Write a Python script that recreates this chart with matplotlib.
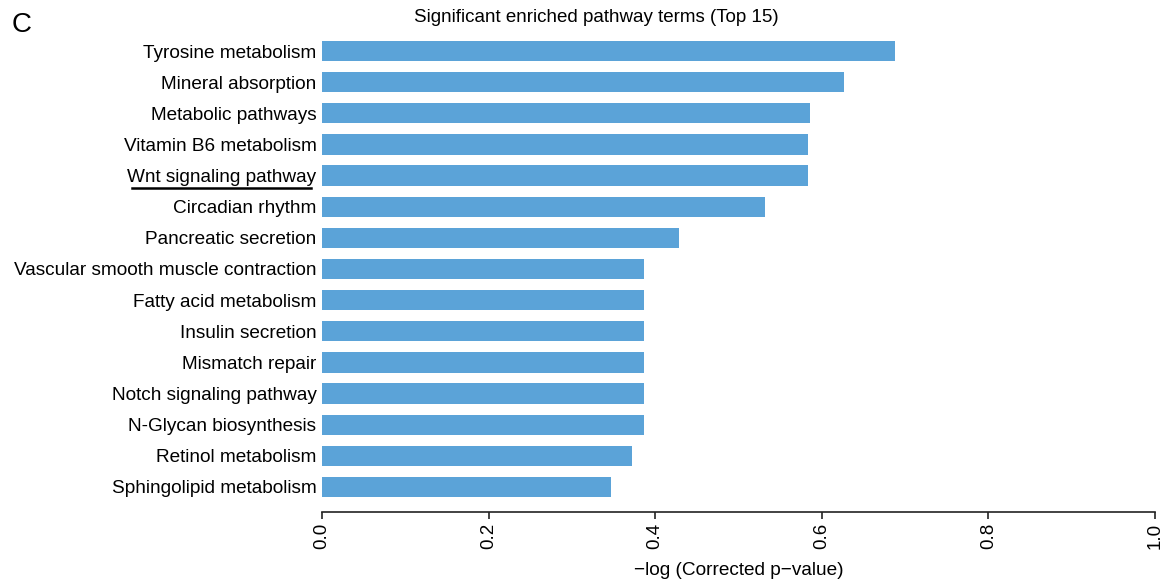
import matplotlib
matplotlib.use("Agg")
import matplotlib.pyplot as plt
from matplotlib.lines import Line2D

plt.rcParams['font.family'] = ['Liberation Sans', 'DejaVu Sans']

# pathway terms, top to bottom
terms = [
    "Tyrosine metabolism",
    "Mineral absorption",
    "Metabolic pathways",
    "Vitamin B6 metabolism",
    "Wnt signaling pathway",
    "Circadian rhythm",
    "Pancreatic secretion",
    "Vascular smooth muscle contraction",
    "Fatty acid metabolism",
    "Insulin secretion",
    "Mismatch repair",
    "Notch signaling pathway",
    "N-Glycan biosynthesis",
    "Retinol metabolism",
    "Sphingolipid metabolism",
]
neg_log_p = [0.688, 0.627, 0.586, 0.583, 0.583, 0.532, 0.429,
             0.387, 0.387, 0.387, 0.387, 0.387, 0.387, 0.372, 0.347]
xticks = [0.0, 0.2, 0.4, 0.6, 0.8, 1.0]
highlight = "Wnt signaling pathway"

W, H = 1168, 582
fig = plt.figure(figsize=(W / 100, H / 100), dpi=100)
ax = fig.add_axes([322 / W, 1 - 505 / H, (1155 - 322) / W, (505 - 35) / H])

# R-style detached x axis (set before ticks: set_position resets them)
for s in ("top", "right", "left"):
    ax.spines[s].set_visible(False)
ax.spines["bottom"].set_position(("outward", 5))
ax.spines["bottom"].set_bounds(0, 1)
ax.spines["bottom"].set_linewidth(1.2)
ax.spines["bottom"].set_color("#222222")

ypos = list(range(len(terms)))
ax.barh(ypos, neg_log_p, height=0.65, color="#5BA3D8", edgecolor="none")

ax.set_xlim(0, 1)
ax.set_ylim(14.58, -0.514)
ax.set_yticks(ypos)
ax.set_yticklabels(terms, fontsize=13.7)
ax.tick_params(axis="y", length=0, pad=4)

ax.set_xticks(xticks)
ax.set_xticklabels([f"{t:.1f}" for t in xticks], fontsize=13.5)
ax.tick_params(axis="x", length=5, width=1.2, pad=3, color="#222222",
               labelrotation=90)

ax.set_xlabel("\u2212log (Corrected p\u2212value)", fontsize=13.7, labelpad=9)

fig.text(596 / W, 1 - 18 / H, "Significant enriched pathway terms (Top 15)",
         ha="center", va="center", fontsize=13.5)
fig.text(12 / W, 1 - 25 / H, "C", ha="left", va="center", fontsize=20)

# underline the highlighted term
fig.canvas.draw()
for lab in ax.get_yticklabels():
    if lab.get_text() == highlight:
        bb = lab.get_window_extent()
        y = bb.y0 - 2
        fig.add_artist(Line2D([(bb.x0 + 5) / W, (bb.x1 - 5) / W], [y / H, y / H],
                              color="black", linewidth=1.8))

fig.savefig("out.png", dpi=100)
